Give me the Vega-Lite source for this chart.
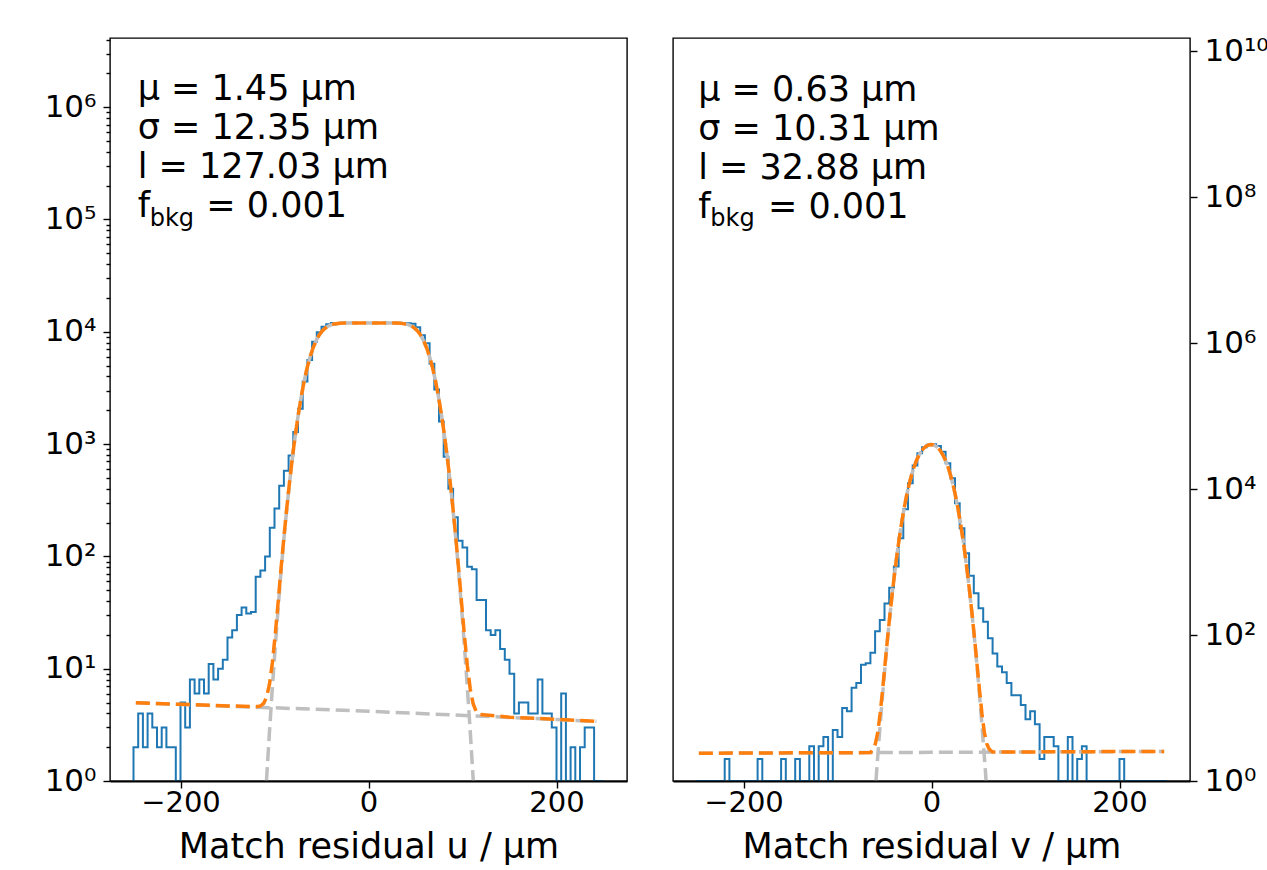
{
  "$schema": "https://vega.github.io/schema/vega-lite/v6.json",
  "autosize": {"type": "pad"},
  "padding": {"left": 43, "top": 22, "right": 0, "bottom": 0},
  "bounds": "flush",
  "spacing": 46,
  "config": {
    "font": "DejaVu Sans",
    "view": {"stroke": "black", "strokeWidth": 1.4},
    "axis": {"domain": false, "grid": false, "labelFont": "DejaVu Sans", "titleFont": "DejaVu Sans", "labelColor": "black", "titleColor": "black", "tickColor": "black", "labelFontSize": 29, "titleFontSize": 35, "titleFontWeight": "normal", "tickWidth": 1.4, "labelFlush": false, "labelOverlap": false}
  },
  "datasets": {
    "hist_u": [
      {"i":0,"x":-250,"y":0},{"i":1,"x":-250,"y":2},{"i":2,"x":-245,"y":4},{"i":3,"x":-240,"y":2},{"i":4,"x":-235,"y":4},{"i":5,"x":-230,"y":3},{"i":6,"x":-225,"y":2},{"i":7,"x":-220,"y":3},{"i":8,"x":-215,"y":2},{"i":9,"x":-210,"y":2},{"i":10,"x":-205,"y":0},
      {"i":11,"x":-200,"y":5},{"i":12,"x":-195,"y":3},{"i":13,"x":-190,"y":8},{"i":14,"x":-185,"y":6},{"i":15,"x":-180,"y":8},{"i":16,"x":-175,"y":6},{"i":17,"x":-170,"y":11},{"i":18,"x":-165,"y":8},{"i":19,"x":-160,"y":10},{"i":20,"x":-155,"y":12},
      {"i":21,"x":-150,"y":19},{"i":22,"x":-145,"y":22},{"i":23,"x":-140,"y":30},{"i":24,"x":-135,"y":35},{"i":25,"x":-130,"y":31},{"i":26,"x":-125,"y":32},{"i":27,"x":-120,"y":66},{"i":28,"x":-115,"y":75},{"i":29,"x":-110,"y":100},{"i":30,"x":-105,"y":180},
      {"i":31,"x":-100,"y":267},{"i":32,"x":-95,"y":425},{"i":33,"x":-90,"y":580},{"i":34,"x":-85,"y":790},{"i":35,"x":-80,"y":1280},{"i":36,"x":-75,"y":2060},{"i":37,"x":-70,"y":3600},{"i":38,"x":-65,"y":5600},{"i":39,"x":-60,"y":8150},{"i":40,"x":-55,"y":9900},
      {"i":41,"x":-50,"y":11100},{"i":42,"x":-45,"y":11700},{"i":43,"x":-40,"y":11950},{"i":44,"x":-35,"y":12000},{"i":45,"x":-30,"y":12050},{"i":46,"x":-25,"y":11980},{"i":47,"x":-20,"y":12020},{"i":48,"x":-15,"y":11960},{"i":49,"x":-10,"y":12000},{"i":50,"x":-5,"y":12040},
      {"i":51,"x":0,"y":11990},{"i":52,"x":5,"y":12010},{"i":53,"x":10,"y":11970},{"i":54,"x":15,"y":12030},{"i":55,"x":20,"y":12000},{"i":56,"x":25,"y":11980},{"i":57,"x":30,"y":12020},{"i":58,"x":35,"y":11950},{"i":59,"x":40,"y":11900},{"i":60,"x":45,"y":11800},
      {"i":61,"x":50,"y":11000},{"i":62,"x":55,"y":9300},{"i":63,"x":60,"y":7900},{"i":64,"x":65,"y":5200},{"i":65,"x":70,"y":3070},{"i":66,"x":75,"y":1590},{"i":67,"x":80,"y":770},{"i":68,"x":85,"y":400},{"i":69,"x":90,"y":223},{"i":70,"x":95,"y":138},
      {"i":71,"x":100,"y":120},{"i":72,"x":105,"y":81},{"i":73,"x":110,"y":77},{"i":74,"x":115,"y":41},{"i":75,"x":120,"y":41},{"i":76,"x":125,"y":22},{"i":77,"x":130,"y":20},{"i":78,"x":135,"y":22},{"i":79,"x":140,"y":15},{"i":80,"x":145,"y":12},
      {"i":81,"x":150,"y":9},{"i":82,"x":155,"y":4},{"i":83,"x":160,"y":5},{"i":84,"x":165,"y":5},{"i":85,"x":170,"y":4},{"i":86,"x":175,"y":4},{"i":87,"x":180,"y":8},{"i":88,"x":185,"y":4},{"i":89,"x":190,"y":4},{"i":90,"x":195,"y":3},
      {"i":91,"x":200,"y":0},{"i":92,"x":205,"y":6},{"i":93,"x":210,"y":0},{"i":94,"x":215,"y":2},{"i":95,"x":220,"y":0},{"i":96,"x":225,"y":2},{"i":97,"x":230,"y":3},{"i":98,"x":235,"y":3},{"i":99,"x":240,"y":0},{"i":100,"x":245,"y":0},
      {"i":101,"x":250,"y":0}
    ],
    "hist_v": [
      {"i":0,"x":-250,"y":0},{"i":1,"x":-250,"y":0},{"i":2,"x":-245,"y":0},{"i":3,"x":-240,"y":0},{"i":4,"x":-235,"y":0},{"i":5,"x":-230,"y":0},{"i":6,"x":-225,"y":0},{"i":7,"x":-220,"y":2},{"i":8,"x":-215,"y":0},{"i":9,"x":-210,"y":0},{"i":10,"x":-205,"y":0},
      {"i":11,"x":-200,"y":0},{"i":12,"x":-195,"y":0},{"i":13,"x":-190,"y":0},{"i":14,"x":-185,"y":2},{"i":15,"x":-180,"y":0},{"i":16,"x":-175,"y":0},{"i":17,"x":-170,"y":0},{"i":18,"x":-165,"y":0},{"i":19,"x":-160,"y":2},{"i":20,"x":-155,"y":0},
      {"i":21,"x":-150,"y":0},{"i":22,"x":-145,"y":2},{"i":23,"x":-140,"y":0},{"i":24,"x":-135,"y":0},{"i":25,"x":-130,"y":3},{"i":26,"x":-125,"y":0},{"i":27,"x":-120,"y":3},{"i":28,"x":-115,"y":4},{"i":29,"x":-110,"y":0},{"i":30,"x":-105,"y":5},
      {"i":31,"x":-100,"y":4},{"i":32,"x":-95,"y":10},{"i":33,"x":-90,"y":9},{"i":34,"x":-85,"y":19},{"i":35,"x":-80,"y":22},{"i":36,"x":-75,"y":39},{"i":37,"x":-70,"y":41},{"i":38,"x":-65,"y":57},{"i":39,"x":-60,"y":113},{"i":40,"x":-55,"y":160},
      {"i":41,"x":-50,"y":270},{"i":42,"x":-45,"y":445},{"i":43,"x":-40,"y":870},{"i":44,"x":-35,"y":2120},{"i":45,"x":-30,"y":5300},{"i":46,"x":-25,"y":12000},{"i":47,"x":-20,"y":21000},{"i":48,"x":-15,"y":30800},{"i":49,"x":-10,"y":37400},{"i":50,"x":-5,"y":40500},
      {"i":51,"x":0,"y":41000},{"i":52,"x":5,"y":39000},{"i":53,"x":10,"y":32400},{"i":54,"x":15,"y":22500},{"i":55,"x":20,"y":14000},{"i":56,"x":25,"y":6370},{"i":57,"x":30,"y":2900},{"i":58,"x":35,"y":1315},{"i":59,"x":40,"y":650},{"i":60,"x":45,"y":372},
      {"i":61,"x":50,"y":232},{"i":62,"x":55,"y":152},{"i":63,"x":60,"y":90},{"i":64,"x":65,"y":56},{"i":65,"x":70,"y":37},{"i":66,"x":75,"y":31},{"i":67,"x":80,"y":22},{"i":68,"x":85,"y":15},{"i":69,"x":90,"y":15},{"i":70,"x":95,"y":11},
      {"i":71,"x":100,"y":7},{"i":72,"x":105,"y":9},{"i":73,"x":110,"y":6},{"i":74,"x":115,"y":2},{"i":75,"x":120,"y":4},{"i":76,"x":125,"y":4},{"i":77,"x":130,"y":3},{"i":78,"x":135,"y":0},{"i":79,"x":140,"y":0},{"i":80,"x":145,"y":4},
      {"i":81,"x":150,"y":0},{"i":82,"x":155,"y":2},{"i":83,"x":160,"y":3},{"i":84,"x":165,"y":0},{"i":85,"x":170,"y":0},{"i":86,"x":175,"y":0},{"i":87,"x":180,"y":0},{"i":88,"x":185,"y":1},{"i":89,"x":190,"y":1},{"i":90,"x":195,"y":1},
      {"i":91,"x":200,"y":2},{"i":92,"x":205,"y":1},{"i":93,"x":210,"y":1},{"i":94,"x":215,"y":1},{"i":95,"x":220,"y":1},{"i":96,"x":225,"y":0},{"i":97,"x":230,"y":0},{"i":98,"x":235,"y":0},{"i":99,"x":240,"y":0},{"i":100,"x":245,"y":0},
      {"i":101,"x":250,"y":0}
    ],
    "tot_u": [
      {"x":-247.5,"y":4.97},{"x":-200,"y":4.82},{"x":-150,"y":4.66},{"x":-117.5,"y":4.6},{"x":-114.6,"y":4.68},{"x":-111.5,"y":4.92},{"x":-108.4,"y":5.58},{"x":-105.3,"y":7.31},{"x":-102.2,"y":11.41},{"x":-99.1,"y":20.65},{"x":-96.0,"y":40.1},{"x":-93.0,"y":78.8},{"x":-89.9,"y":150.7},{"x":-86.8,"y":276.6},{"x":-83.7,"y":483.5},{"x":-80.6,"y":803},{"x":-77.5,"y":1267},{"x":-74.4,"y":1902},{"x":-71.3,"y":2714},{"x":-68.25,"y":3694},{"x":-65.2,"y":4804},{"x":-62.1,"y":5984},{"x":-59.0,"y":7164},{"x":-55.9,"y":8274},{"x":-52.8,"y":9254},{"x":-49.7,"y":10066},{"x":-46.6,"y":10701},{"x":-43.55,"y":11165},{"x":-40.5,"y":11484},{"x":-37.4,"y":11691},{"x":-31.2,"y":11890},{"x":-25.0,"y":11948},{"x":0,"y":11964},{"x":27.9,"y":11948},{"x":34.1,"y":11890},{"x":40.3,"y":11691},{"x":43.4,"y":11484},{"x":46.45,"y":11165},{"x":49.5,"y":10701},{"x":52.6,"y":10066},{"x":55.7,"y":9254},{"x":58.8,"y":8274},{"x":61.9,"y":7164},{"x":65.0,"y":5984},{"x":68.1,"y":4804},{"x":71.15,"y":3694},{"x":74.2,"y":2714},{"x":77.3,"y":1902},{"x":80.4,"y":1267},{"x":83.5,"y":803},{"x":86.6,"y":483},{"x":89.7,"y":276},{"x":92.8,"y":150.1},{"x":95.85,"y":78.2},{"x":98.9,"y":39.5},{"x":102.0,"y":20.0},{"x":105.1,"y":10.74},{"x":108.2,"y":6.62},{"x":111.3,"y":4.88},{"x":114.4,"y":4.19},{"x":117.5,"y":3.93},{"x":150,"y":3.7},{"x":200,"y":3.54},{"x":242.5,"y":3.4}
    ],
    "gauss_u": [
      {"x":-108.6,"y":1.0},{"x":-108.4,"y":1.057},{"x":-105.3,"y":2.79},{"x":-102.2,"y":6.9},{"x":-99.1,"y":16.15},{"x":-96.0,"y":35.6},{"x":-93.0,"y":74.3},{"x":-89.9,"y":146.2},{"x":-86.8,"y":272.1},{"x":-83.7,"y":479.1},{"x":-80.6,"y":799},{"x":-77.5,"y":1263},{"x":-74.4,"y":1898},{"x":-71.3,"y":2710},{"x":-68.25,"y":3690},{"x":-65.2,"y":4800},{"x":-62.1,"y":5980},{"x":-59.0,"y":7160},{"x":-55.9,"y":8270},{"x":-52.8,"y":9250},{"x":-49.7,"y":10062},{"x":-46.6,"y":10697},{"x":-43.55,"y":11161},{"x":-40.5,"y":11480},{"x":-37.4,"y":11687},{"x":-31.2,"y":11886},{"x":-25.0,"y":11944},{"x":0,"y":11960},{"x":27.9,"y":11944},{"x":34.1,"y":11886},{"x":40.3,"y":11687},{"x":43.4,"y":11480},{"x":46.45,"y":11161},{"x":49.5,"y":10697},{"x":52.6,"y":10062},{"x":55.7,"y":9250},{"x":58.8,"y":8270},{"x":61.9,"y":7160},{"x":65.0,"y":5980},{"x":68.1,"y":4800},{"x":71.15,"y":3690},{"x":74.2,"y":2710},{"x":77.3,"y":1898},{"x":80.4,"y":1263},{"x":83.5,"y":799},{"x":86.6,"y":479.1},{"x":89.7,"y":272.1},{"x":92.8,"y":146.2},{"x":95.85,"y":74.3},{"x":98.9,"y":35.6},{"x":102.0,"y":16.15},{"x":105.1,"y":6.9},{"x":108.2,"y":2.79},{"x":111.3,"y":1.057},{"x":111.5,"y":1.0}
    ],
    "bkg_u": [{"x":-247.5,"y":4.97},{"x":0,"y":4.18},{"x":242.5,"y":3.4}],
    "tot_v": [
      {"x":-247.5,"y":2.4},{"x":-150,"y":2.43},{"x":-65,"y":2.45},{"x":-62.36,"y":2.69},{"x":-59.78,"y":3.21},{"x":-57.21,"y":4.6},{"x":-54.63,"y":8.37},{"x":-52.05,"y":17.6},{"x":-49.47,"y":39.3},{"x":-46.9,"y":86.8},{"x":-44.32,"y":184.3},{"x":-41.74,"y":373},{"x":-39.16,"y":716},{"x":-36.59,"y":1303.5},{"x":-34.01,"y":2246},{"x":-31.43,"y":3666},{"x":-28.85,"y":5681},{"x":-26.28,"y":8370},{"x":-23.7,"y":11731},{"x":-21.12,"y":15689},{"x":-18.54,"y":20062},{"x":-15.97,"y":24587},{"x":-13.39,"y":28984},{"x":-10.81,"y":32951},{"x":-8.23,"y":36253},{"x":-5.66,"y":38708},{"x":-3.08,"y":40219},{"x":-0.5,"y":40727},{"x":2.08,"y":40219},{"x":4.66,"y":38708},{"x":7.23,"y":36253},{"x":9.81,"y":32951},{"x":12.39,"y":28984},{"x":14.97,"y":24587},{"x":17.54,"y":20062},{"x":20.12,"y":15689},{"x":22.7,"y":11731},{"x":25.28,"y":8370},{"x":27.85,"y":5681},{"x":30.43,"y":3666},{"x":33.01,"y":2246},{"x":35.59,"y":1303.5},{"x":38.16,"y":716},{"x":40.74,"y":373},{"x":43.32,"y":184.3},{"x":45.9,"y":86.8},{"x":48.47,"y":39.3},{"x":51.05,"y":17.7},{"x":53.63,"y":8.4},{"x":56.21,"y":4.64},{"x":58.78,"y":3.24},{"x":61.36,"y":2.73},{"x":65,"y":2.49},{"x":150,"y":2.52},{"x":247.5,"y":2.54}
    ],
    "gauss_v": [
      {"x":-59.1,"y":1.0},{"x":-57.21,"y":2.15},{"x":-54.63,"y":5.91},{"x":-52.05,"y":15.16},{"x":-49.47,"y":36.8},{"x":-46.9,"y":84.3},{"x":-44.32,"y":181.8},{"x":-41.74,"y":370.5},{"x":-39.16,"y":713.6},{"x":-36.59,"y":1301},{"x":-34.01,"y":2244},{"x":-31.43,"y":3664},{"x":-28.85,"y":5679},{"x":-26.28,"y":8368},{"x":-23.7,"y":11729},{"x":-21.12,"y":15687},{"x":-18.54,"y":20060},{"x":-15.97,"y":24585},{"x":-13.39,"y":28982},{"x":-10.81,"y":32949},{"x":-8.23,"y":36251},{"x":-5.66,"y":38706},{"x":-3.08,"y":40217},{"x":-0.5,"y":40725},{"x":2.08,"y":40217},{"x":4.66,"y":38706},{"x":7.23,"y":36251},{"x":9.81,"y":32949},{"x":12.39,"y":28982},{"x":14.97,"y":24585},{"x":17.54,"y":20060},{"x":20.12,"y":15687},{"x":22.7,"y":11729},{"x":25.28,"y":8368},{"x":27.85,"y":5679},{"x":30.43,"y":3664},{"x":33.01,"y":2244},{"x":35.59,"y":1301},{"x":38.16,"y":713.6},{"x":40.74,"y":370.5},{"x":43.32,"y":181.8},{"x":45.9,"y":84.3},{"x":48.47,"y":36.8},{"x":51.05,"y":15.16},{"x":53.63,"y":5.91},{"x":56.21,"y":2.15},{"x":58.1,"y":1.0}
    ],
    "bkg_v": [{"x":-247.5,"y":2.4},{"x":0,"y":2.47},{"x":247.5,"y":2.54}]
  },
  "hconcat": [
    {
      "width": 517,
      "height": 743,
      "layer": [
        {
          "data": {"name": "hist_u"},
          "mark": {"type": "line", "interpolate": "step-after", "color": "#1f77b4", "strokeWidth": 2, "clip": true, "invalid": "show"},
          "encoding": {
            "x": {"field": "x", "type": "quantitative", "scale": {"domain": [-275, 275], "nice": false, "zero": false},
                  "axis": {"title": "Match residual u / μm", "values": [-200, 0, 200], "tickSize": 7, "labelPadding": 0, "titlePadding": 12, "domain": true, "domainColor": "black", "domainWidth": 2, "zindex": 1}},
            "y": {"field": "y", "type": "quantitative", "scale": {"type": "log", "domain": [1, 4130000], "nice": false, "clamp": true},
                  "axis": {"title": null, "labelFontSize": 31,
                           "values": [1,2,3,4,5,6,7,8,9,10,20,30,40,50,60,70,80,90,100,200,300,400,500,600,700,800,900,1000,2000,3000,4000,5000,6000,7000,8000,9000,10000,20000,30000,40000,50000,60000,70000,80000,90000,100000,200000,300000,400000,500000,600000,700000,800000,900000,1000000,2000000,3000000,4000000],
                           "tickSize": {"condition": {"test": "abs(log(datum.value)/LN10 - round(log(datum.value)/LN10)) < 0.001", "value": 7}, "value": 4},
                           "labelExpr": "abs(log(datum.value)/LN10 - round(log(datum.value)/LN10)) < 0.001 ? '10' + ['⁰','¹','²','³','⁴','⁵','⁶','⁷','⁸','⁹'][round(log(datum.value)/LN10)] : ''",
                           "labelPadding": 7}},
            "order": {"field": "i", "type": "quantitative"}
          }
        },
        {
          "data": {"name": "gauss_u"},
          "mark": {"type": "line", "color": "#bfbfbf", "strokeWidth": 3.5, "strokeDash": [14, 6], "clip": true},
          "encoding": {"x": {"field": "x", "type": "quantitative"}, "y": {"field": "y", "type": "quantitative"}}
        },
        {
          "data": {"name": "bkg_u"},
          "mark": {"type": "line", "color": "#bfbfbf", "strokeWidth": 3.5, "strokeDash": [14, 6], "clip": true},
          "encoding": {"x": {"field": "x", "type": "quantitative"}, "y": {"field": "y", "type": "quantitative"}}
        },
        {
          "data": {"name": "tot_u"},
          "mark": {"type": "line", "color": "#ff7f0e", "strokeWidth": 3.5, "strokeDash": [14, 6], "clip": true},
          "encoding": {"x": {"field": "x", "type": "quantitative"}, "y": {"field": "y", "type": "quantitative"}}
        },
        {"data": {"values": [{}]}, "mark": {"type": "text", "text": "μ = 1.45 μm", "align": "left", "baseline": "alphabetic", "fontSize": 35, "font": "DejaVu Sans", "color": "black"},
         "encoding": {"x": {"datum": -245.6}, "y": {"datum": 1147000}}},
        {"data": {"values": [{}]}, "mark": {"type": "text", "text": "σ = 12.35 μm", "align": "left", "baseline": "alphabetic", "fontSize": 35, "font": "DejaVu Sans", "color": "black"},
         "encoding": {"x": {"datum": -245.6}, "y": {"datum": 515700}}},
        {"data": {"values": [{}]}, "mark": {"type": "text", "text": "l = 127.03 μm", "align": "left", "baseline": "alphabetic", "fontSize": 35, "font": "DejaVu Sans", "color": "black"},
         "encoding": {"x": {"datum": -245.6}, "y": {"datum": 231700}}},
        {"data": {"values": [{}]}, "mark": {"type": "text", "text": "f", "align": "left", "baseline": "alphabetic", "fontSize": 35, "font": "DejaVu Sans", "color": "black"},
         "encoding": {"x": {"datum": -245.6}, "y": {"datum": 104200}}},
        {"data": {"values": [{}]}, "mark": {"type": "text", "text": "bkg", "align": "left", "baseline": "alphabetic", "fontSize": 24, "font": "DejaVu Sans", "color": "black"},
         "encoding": {"x": {"datum": -232.8}, "y": {"datum": 87500}}},
        {"data": {"values": [{}]}, "mark": {"type": "text", "text": "= 0.001", "align": "left", "baseline": "alphabetic", "fontSize": 35, "font": "DejaVu Sans", "color": "black"},
         "encoding": {"x": {"datum": -172.5}, "y": {"datum": 104200}}}
      ]
    },
    {
      "width": 517,
      "height": 743,
      "layer": [
        {
          "data": {"name": "hist_v"},
          "mark": {"type": "line", "interpolate": "step-after", "color": "#1f77b4", "strokeWidth": 2, "clip": true, "invalid": "show"},
          "encoding": {
            "x": {"field": "x", "type": "quantitative", "scale": {"domain": [-275, 275], "nice": false, "zero": false},
                  "axis": {"title": "Match residual v / μm", "values": [-200, 0, 200], "tickSize": 7, "labelPadding": 0, "titlePadding": 12, "domain": true, "domainColor": "black", "domainWidth": 2, "zindex": 1}},
            "y": {"field": "y", "type": "quantitative", "scale": {"type": "log", "domain": [1, 15100000000], "nice": false, "clamp": true},
                  "axis": {"title": null, "orient": "right", "labelFontSize": 31,
                           "values": [1, 100, 10000, 1000000, 100000000, 10000000000],
                           "tickSize": 7,
                           "labelExpr": "'10' + ['⁰','¹','²','³','⁴','⁵','⁶','⁷','⁸','⁹','¹⁰'][round(log(datum.value)/LN10)]",
                           "labelPadding": 7}},
            "order": {"field": "i", "type": "quantitative"}
          }
        },
        {
          "data": {"name": "gauss_v"},
          "mark": {"type": "line", "color": "#bfbfbf", "strokeWidth": 3.5, "strokeDash": [14, 6], "clip": true},
          "encoding": {"x": {"field": "x", "type": "quantitative"}, "y": {"field": "y", "type": "quantitative"}}
        },
        {
          "data": {"name": "bkg_v"},
          "mark": {"type": "line", "color": "#bfbfbf", "strokeWidth": 3.5, "strokeDash": [14, 6], "clip": true},
          "encoding": {"x": {"field": "x", "type": "quantitative"}, "y": {"field": "y", "type": "quantitative"}}
        },
        {
          "data": {"name": "tot_v"},
          "mark": {"type": "line", "color": "#ff7f0e", "strokeWidth": 3.5, "strokeDash": [14, 6], "clip": true},
          "encoding": {"x": {"field": "x", "type": "quantitative"}, "y": {"field": "y", "type": "quantitative"}}
        },
        {"data": {"values": [{}]}, "mark": {"type": "text", "text": "μ = 0.63 μm", "align": "left", "baseline": "alphabetic", "fontSize": 35, "font": "DejaVu Sans", "color": "black"},
         "encoding": {"x": {"datum": -248.2}, "y": {"datum": 2099000000}}},
        {"data": {"values": [{}]}, "mark": {"type": "text", "text": "σ = 10.31 μm", "align": "left", "baseline": "alphabetic", "fontSize": 35, "font": "DejaVu Sans", "color": "black"},
         "encoding": {"x": {"datum": -248.2}, "y": {"datum": 613000000}}},
        {"data": {"values": [{}]}, "mark": {"type": "text", "text": "l = 32.88 μm", "align": "left", "baseline": "alphabetic", "fontSize": 35, "font": "DejaVu Sans", "color": "black"},
         "encoding": {"x": {"datum": -248.2}, "y": {"datum": 179200000}}},
        {"data": {"values": [{}]}, "mark": {"type": "text", "text": "f", "align": "left", "baseline": "alphabetic", "fontSize": 35, "font": "DejaVu Sans", "color": "black"},
         "encoding": {"x": {"datum": -248.2}, "y": {"datum": 52400000}}},
        {"data": {"values": [{}]}, "mark": {"type": "text", "text": "bkg", "align": "left", "baseline": "alphabetic", "fontSize": 24, "font": "DejaVu Sans", "color": "black"},
         "encoding": {"x": {"datum": -235.3}, "y": {"datum": 40000000}}},
        {"data": {"values": [{}]}, "mark": {"type": "text", "text": "= 0.001", "align": "left", "baseline": "alphabetic", "fontSize": 35, "font": "DejaVu Sans", "color": "black"},
         "encoding": {"x": {"datum": -174}, "y": {"datum": 52400000}}}
      ]
    }
  ]
}
